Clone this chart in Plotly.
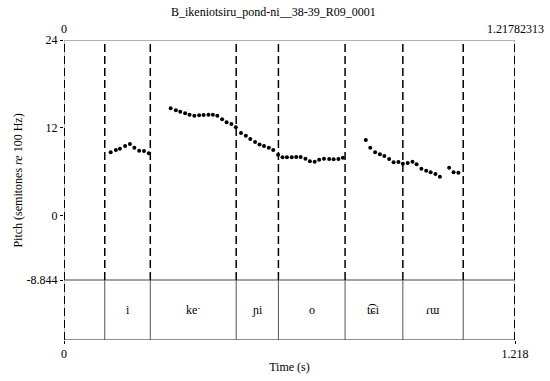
import plotly.graph_objects as go

# ---- data ----
title_text = "B_ikeniotsiru_pond-ni__38-39_R09_0001"
t_end = 1.21782313
y_top = 24.0
y_floor = -8.844
tier_height = 8.21

boundaries = [0.110, 0.233, 0.465, 0.579, 0.759, 0.915, 1.078]
segment_labels = ["", "i", "ke\u02d1", "\u0272i", "o", "t\u0361\u0255i", "\u027e\u026f", ""]

times = [
    0.126, 0.140, 0.151, 0.165, 0.178, 0.190, 0.203, 0.216, 0.229,
    0.288, 0.302, 0.314, 0.327, 0.339, 0.352, 0.365, 0.377, 0.390, 0.402, 0.414, 0.427, 0.439, 0.452, 0.464,
    0.478, 0.491, 0.503, 0.516, 0.528, 0.540, 0.553, 0.565, 0.578,
    0.590, 0.602, 0.615, 0.627, 0.639, 0.652, 0.664, 0.677, 0.689, 0.702, 0.716, 0.728, 0.741, 0.753,
    0.815, 0.827, 0.840, 0.853, 0.865, 0.878, 0.890, 0.903, 0.915,
    0.928, 0.941, 0.952, 0.965, 0.978, 0.990, 1.003, 1.015, 1.040, 1.052, 1.065,
]
pitch = [
    8.64, 8.95, 9.13, 9.50, 9.77, 9.27, 8.86, 8.81, 8.50,
    14.66, 14.38, 14.19, 13.97, 13.78, 13.64, 13.70, 13.74, 13.78, 13.78, 13.64, 13.15, 12.74, 12.51, 12.06,
    11.28, 10.89, 10.45, 10.05, 9.70, 9.50, 9.27, 8.95, 8.31,
    7.95, 7.95, 7.95, 7.99, 7.98, 7.74, 7.40, 7.35, 7.62, 7.76, 7.72, 7.68, 7.72, 7.90,
    10.32, 9.27, 8.63, 8.36, 8.13, 7.72, 7.27, 7.31, 7.08,
    7.17, 7.35, 6.99, 6.39, 6.12, 5.90, 5.67, 5.30, 6.53, 5.90, 5.85,
]

y_ticks = [24, 12, 0, -8.844]
y_ticktext = ["24", "12", "0", "-8.844"]
x_ticks = [0, t_end]
x_ticktext = ["0", "1.218"]

FONT = "Liberation Serif"
y_bottom = y_floor - tier_height

fig = go.Figure()
fig.add_trace(go.Scatter(
    x=times, y=pitch, mode="markers",
    marker=dict(color="black", size=4),
    hoverinfo="skip", showlegend=False,
))

shapes = []
shapes.append(dict(type="line", xref="x", yref="y", x0=0, x1=t_end, y0=y_floor, y1=y_floor,
                   line=dict(color="#444", width=1)))
shapes.append(dict(type="line", xref="x", yref="y", x0=0, x1=t_end, y0=y_top, y1=y_top,
                   line=dict(color="#666", width=1)))
shapes.append(dict(type="line", xref="x", yref="y", x0=0, x1=t_end, y0=y_bottom, y1=y_bottom,
                   line=dict(color="#222", width=1)))
for xe in [0, t_end]:
    shapes.append(dict(type="line", xref="x", yref="y", x0=xe, x1=xe, y0=y_bottom, y1=y_top,
                       line=dict(color="#888", width=1)))
    shapes.append(dict(type="line", xref="x", yref="y", x0=xe, x1=xe, y0=y_bottom, y1=y_top,
                       line=dict(color="black", width=2, dash="8px,4px")))
for b in boundaries:
    shapes.append(dict(type="line", xref="x", yref="y", x0=b, x1=b, y0=y_floor, y1=y_top,
                       line=dict(color="black", width=1.5, dash="8px,4px")))
    shapes.append(dict(type="line", xref="x", yref="y", x0=b, x1=b, y0=y_bottom, y1=y_floor,
                       line=dict(color="#555", width=1)))

annotations = []
edges = [0] + boundaries + [t_end]
for i, lab in enumerate(segment_labels):
    if lab:
        annotations.append(dict(x=(edges[i] + edges[i + 1]) / 2, y=y_floor - tier_height / 2,
                                xref="x", yref="y", text=lab, showarrow=False,
                                font=dict(family=FONT, size=12, color="black")))
annotations.append(dict(x=0.4656, y=1.0933, xref="paper", yref="paper", text=title_text,
                        showarrow=False, xanchor="center", yanchor="middle",
                        font=dict(family=FONT, size=12, color="black")))
annotations.append(dict(x=0, y=1, xref="x", yref="paper", text="0", showarrow=False,
                        xanchor="center", yanchor="bottom", yshift=2,
                        font=dict(family=FONT, size=12, color="black")))
annotations.append(dict(x=t_end, y=1, xref="x", yref="paper", text="1.21782313", showarrow=False,
                        xanchor="center", yanchor="bottom", yshift=2,
                        font=dict(family=FONT, size=12, color="black")))
annotations.append(dict(x=-0.1009, y=0.533, xref="paper", yref="paper",
                        text="Pitch (semitones <i>re</i> 100 Hz)", showarrow=False,
                        textangle=-90, xanchor="center", yanchor="middle",
                        font=dict(family=FONT, size=12, color="black")))

fig.update_layout(
    width=550, height=381,
    margin=dict(l=64, r=35, t=40, b=41),
    paper_bgcolor="white", plot_bgcolor="white",
    shapes=shapes, annotations=annotations,
    font=dict(family=FONT, size=12, color="black"),
    xaxis=dict(range=[0, t_end], tickvals=x_ticks, ticktext=x_ticktext,
               showgrid=False, zeroline=False, showline=False,
               ticks="outside", ticklen=3, tickcolor="black",
               title=dict(text="Time (s)", standoff=2, font=dict(family=FONT, size=12)),
               automargin=False),
    yaxis=dict(range=[y_bottom, y_top], tickvals=y_ticks, ticktext=y_ticktext,
               showgrid=False, zeroline=False, showline=False,
               ticks="outside", ticklen=3, tickcolor="black", automargin=False),
)

# remove the default 8px page margin so the 550x381 figure fills the window
fig.write_html("out.html", config={"displayModeBar": False},
               post_script="document.body.style.margin='0';")
